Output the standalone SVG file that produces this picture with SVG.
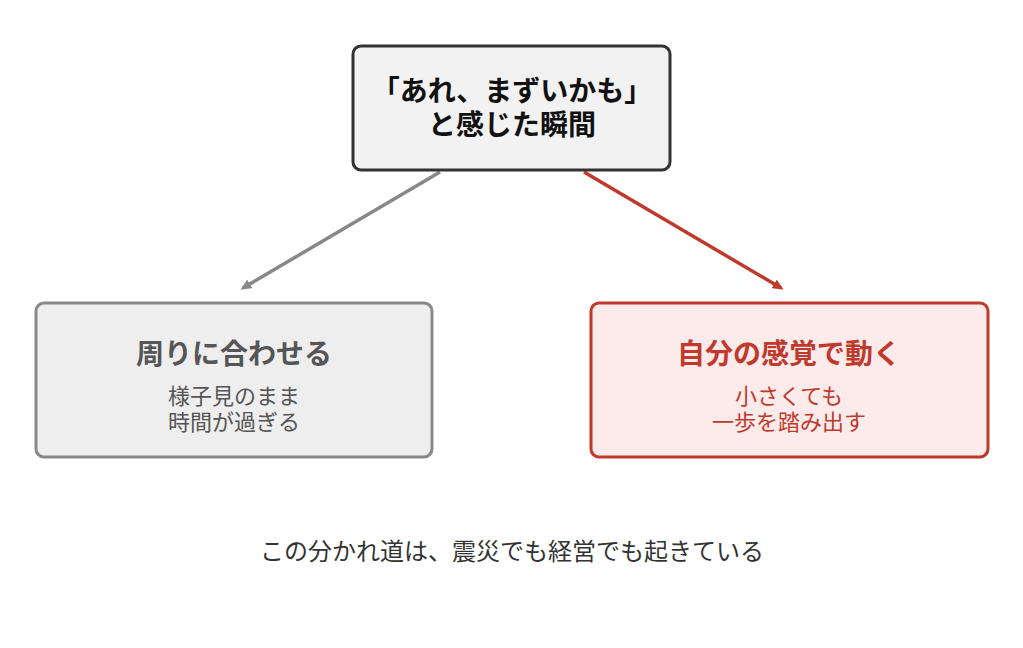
<svg xmlns="http://www.w3.org/2000/svg" width="1023" height="648" viewBox="0 0 1023 648">
<style>
text{font-family:"Noto Sans CJK JP","Noto Sans",sans-serif;text-anchor:middle}
.t{font-size:28px;font-weight:bold}
.s{font-size:22px}
</style>
<defs>
<marker id="ag" markerWidth="11" markerHeight="10" refX="8" refY="5" orient="auto" markerUnits="userSpaceOnUse" viewBox="0 0 11 10"><path d="M0,0 L11,5 L0,10 Z" fill="#888"/></marker>
<marker id="ar" markerWidth="11" markerHeight="10" refX="8" refY="5" orient="auto" markerUnits="userSpaceOnUse" viewBox="0 0 11 10"><path d="M0,0 L11,5 L0,10 Z" fill="#c0392b"/></marker>
</defs>
<rect width="1023" height="648" fill="#fff"/>
<g id="connectors">
<line x1="440" y1="172" x2="243" y2="288" stroke="#888" stroke-width="3.5" marker-end="url(#ag)"/>
<line x1="584" y1="172" x2="781" y2="288" stroke="#c0392b" stroke-width="3.5" marker-end="url(#ar)"/>
</g>
<g id="top">
<rect x="353" y="46" width="317" height="124" rx="8" fill="#f2f2f2" stroke="#333" stroke-width="3"/>
<text class="t" x="512" y="101" fill="#111">「あれ、まずいかも」</text>
<text class="t" x="512" y="135" fill="#111">と感じた瞬間</text>
</g>
<g id="left">
<rect x="36" y="303" width="396" height="154" rx="8" fill="#eeeeee" stroke="#888" stroke-width="3"/>
<text class="t" x="234" y="364" fill="#555">周りに合わせる</text>
<text class="s" x="234" y="404" fill="#555">様子見のまま</text>
<text class="s" x="234" y="430" fill="#555">時間が過ぎる</text>
</g>
<g id="right">
<rect x="591" y="303" width="397" height="154" rx="8" fill="#fdebeb" stroke="#c0392b" stroke-width="3"/>
<text class="t" x="789" y="364" fill="#c0392b">自分の感覚で動く</text>
<text class="s" x="789" y="404" fill="#c0392b">小さくても</text>
<text class="s" x="789" y="430" fill="#c0392b">一歩を踏み出す</text>
</g>
<g id="caption">
<text x="512" y="560" font-size="24" fill="#333">この分かれ道は、震災でも経営でも起きている</text>
</g>
</svg>
